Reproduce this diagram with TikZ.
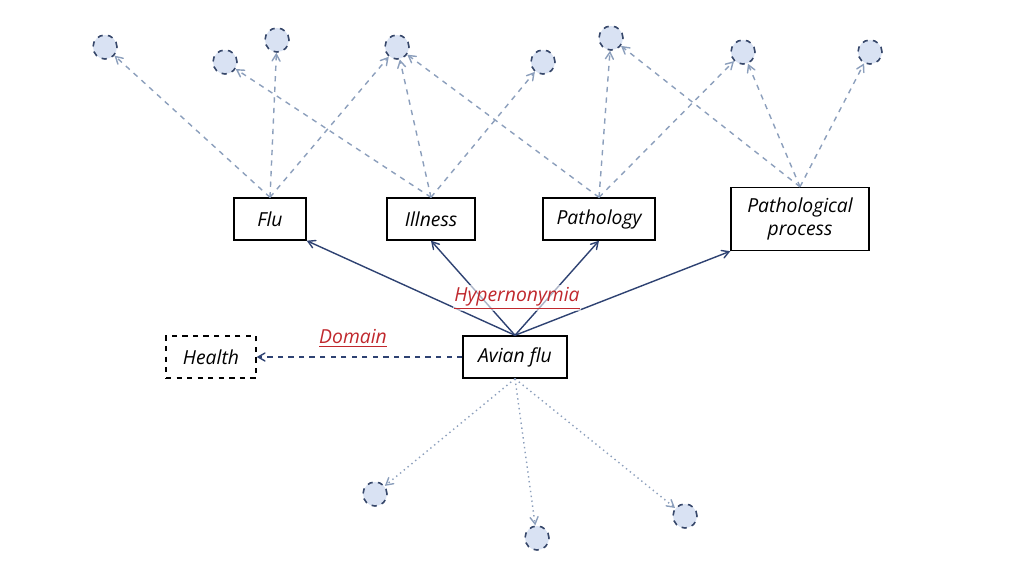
\documentclass[tikz,border=0pt]{standalone}
\usepackage{fontspec}
\setmainfont{Open Sans}
\usetikzlibrary{arrows,positioning}

\definecolor{navy}{HTML}{2E4272}
\definecolor{linkgray}{HTML}{8C9FBC}
\definecolor{dotfill}{HTML}{D9E2F3}
\definecolor{dotedge}{HTML}{36476A}
\definecolor{labred}{HTML}{C0282D}

\begin{document}
\begin{tikzpicture}[
    x=0.02cm, y=-0.02cm,
    term/.style={rectangle, draw=black, line width=0.8pt, fill=white,
                 minimum height=0.84cm, align=center, font=\itshape\fontsize{11}{13}\selectfont},
    concept/.style={circle, draw=dotedge, dashed, line width=0.9pt, fill=dotfill,
                    minimum size=0.48cm, inner sep=0pt},
    hyper/.style={->, >=angle 60, navy, line width=0.8pt},
    link/.style={->, >=angle 60, linkgray, dashed, line width=0.8pt},
    instance/.style={->, >=angle 60, linkgray, dotted, line width=0.8pt},
    relname/.style={font=\itshape\fontsize{11}{13}\selectfont, text=labred}
]
\useasboundingbox (0,0) rectangle (1024,576);

% Terms
\node[term, minimum width=1.44cm] (flu) at (270,219) {Flu};
\node[term, minimum width=1.76cm] (illness) at (431,219) {Illness};
\node[term, minimum width=2.24cm] (pathology) at (599,219) {Pathology};
\node[term, minimum width=2.76cm, minimum height=1.26cm] (process) at (800,219) {Pathological\\process};
\node[term, minimum width=2.08cm] (avian) at (515,357) {Avian flu};
\node[term, dashed, minimum width=1.8cm] (health) at (211,357) {Health};

% Unnamed concepts
\foreach \n/\x/\y in {c1/105/47, c2/225/62, c3/277/40, c4/397/47,
                      c5/543/62, c6/611/38, c7/743/52, c8/870/52,
                      b1/375/494, b2/537/538, b3/685/516}
    \node[concept] (\n) at (\x,\y) {};

% Links of the hypernyms
\foreach \s/\t in {flu/c1, flu/c3, flu/c4,
                   illness/c2, illness/c4, illness/c5,
                   pathology/c4, pathology/c6, pathology/c7,
                   process/c6, process/c7, process/c8}
    \draw[link] (\s.north) -- (\t);

% Instances
\foreach \t in {b1, b2, b3}
    \draw[instance] (avian.south) -- (\t);

% Hypernymy
\draw[hyper] (avian.north) -- (flu.south east);
\draw[hyper] (avian.north) -- (illness.south);
\draw[hyper] (avian.north) -- (pathology.south);
\draw[hyper] (avian.north) -- (process.south west);
\node[relname, fill=white, fill opacity=0.6, text opacity=1, inner sep=1pt] (hyperlabel) at (517,298) {\underline{Hypernonymia}};

% Domain
\draw[hyper, dashed] (avian) -- (health);
\node[relname] (domainlabel) at (353,338) {\underline{Domain}};

\end{tikzpicture}
\end{document}
